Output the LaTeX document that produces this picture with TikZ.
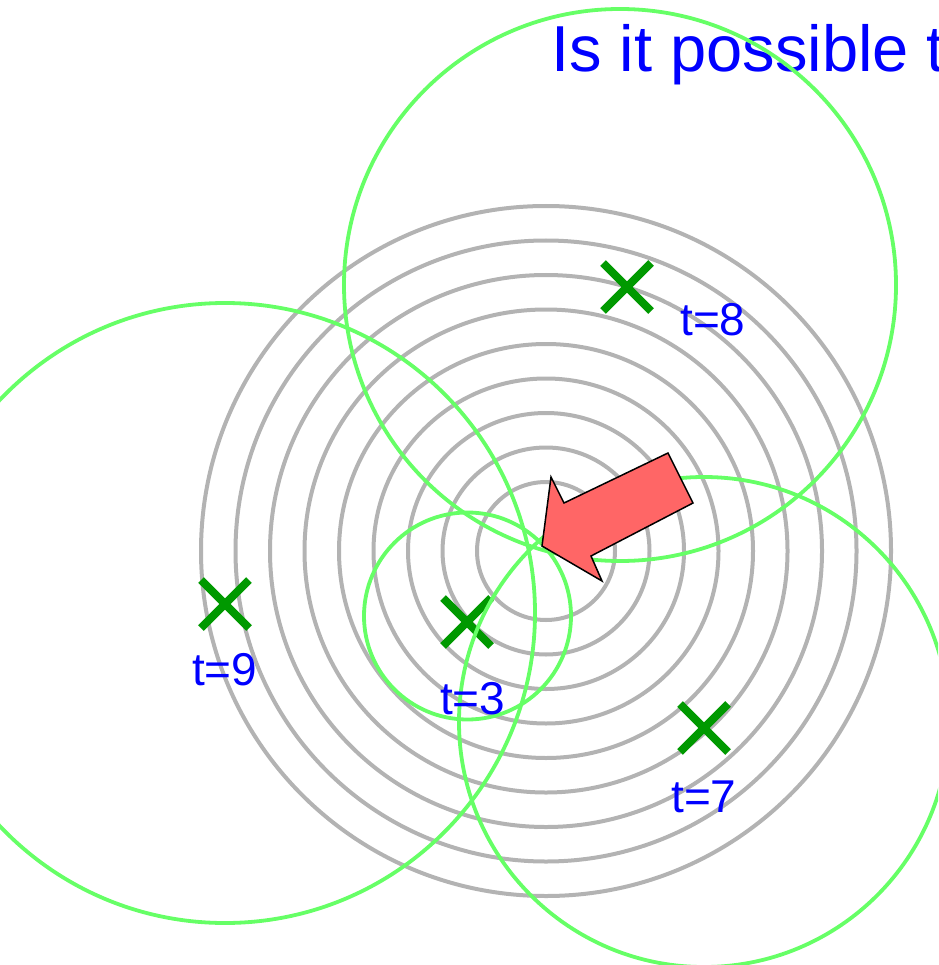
\documentclass[tikz,border=0pt]{standalone}
\usepackage{fontspec}
\setmainfont{Liberation Sans}
\usetikzlibrary{calc}
\definecolor{ringgray}{HTML}{B3B3B3}
\definecolor{lightgreen}{HTML}{66FF66}
\definecolor{markgreen}{HTML}{009900}
\definecolor{arrowpink}{HTML}{FF6666}
\begin{document}
\begin{tikzpicture}[x=1pt,y=-1pt,
  ringline/.style={draw=ringgray,line width=4pt},
  rangecircle/.style={draw=lightgreen,line width=3.8pt},
  xmarkline/.style={draw=markgreen,line width=8pt},
  tlabel/.style={text=blue,anchor=base west,inner sep=0pt,font=\fontsize{46}{50}\selectfont},
  titletext/.style={text=blue,anchor=base west,inner sep=0pt,font=\fontsize{65}{70}\selectfont}]
\useasboundingbox (0,0) rectangle (938,965);
\clip (0,0) rectangle (938,965);
% centre of rings
\coordinate (c) at (546,551);
\foreach \k in {2,...,10} {
  \draw[ringline] (c) circle[radius=34.5*\k];
}
% measurement positions
\coordinate (p8) at (627,287);
\coordinate (p9) at (225,604);
\coordinate (p3) at (467,622);
\coordinate (p7) at (704,728);
% crosses
\foreach \p in {p8,p9,p3,p7} {
  \draw[xmarkline] ($(\p)+(-24,-24)$) -- ($(\p)+(24,24)$);
  \draw[xmarkline] ($(\p)+(-24,24)$) -- ($(\p)+(24,-24)$);
}
% title
\node[titletext] (title) at (551,72) {Is it possible t};
% range circles
\draw[rangecircle] (620,285) circle[radius=276];
\draw[rangecircle] (225,613) circle[radius=310];
\draw[rangecircle] (467.5,616) circle[radius=103.5];
\draw[rangecircle] (704,722) circle[radius=245];
% labels
\node[tlabel] (l8) at (680,335) {t=8};
\node[tlabel] (l9) at (192,685) {t=9};
\node[tlabel] (l3) at (440,714) {t=3};
\node[tlabel] (l7) at (671,812) {t=7};
% arrow
\draw[fill=arrowpink,draw=black,line width=1.5pt,line join=miter]
  (542,546) -- (551,477) -- (564,503) -- (668,453) -- (693,503)
  -- (591,556) -- (602,581) -- cycle;
\end{tikzpicture}
\end{document}
